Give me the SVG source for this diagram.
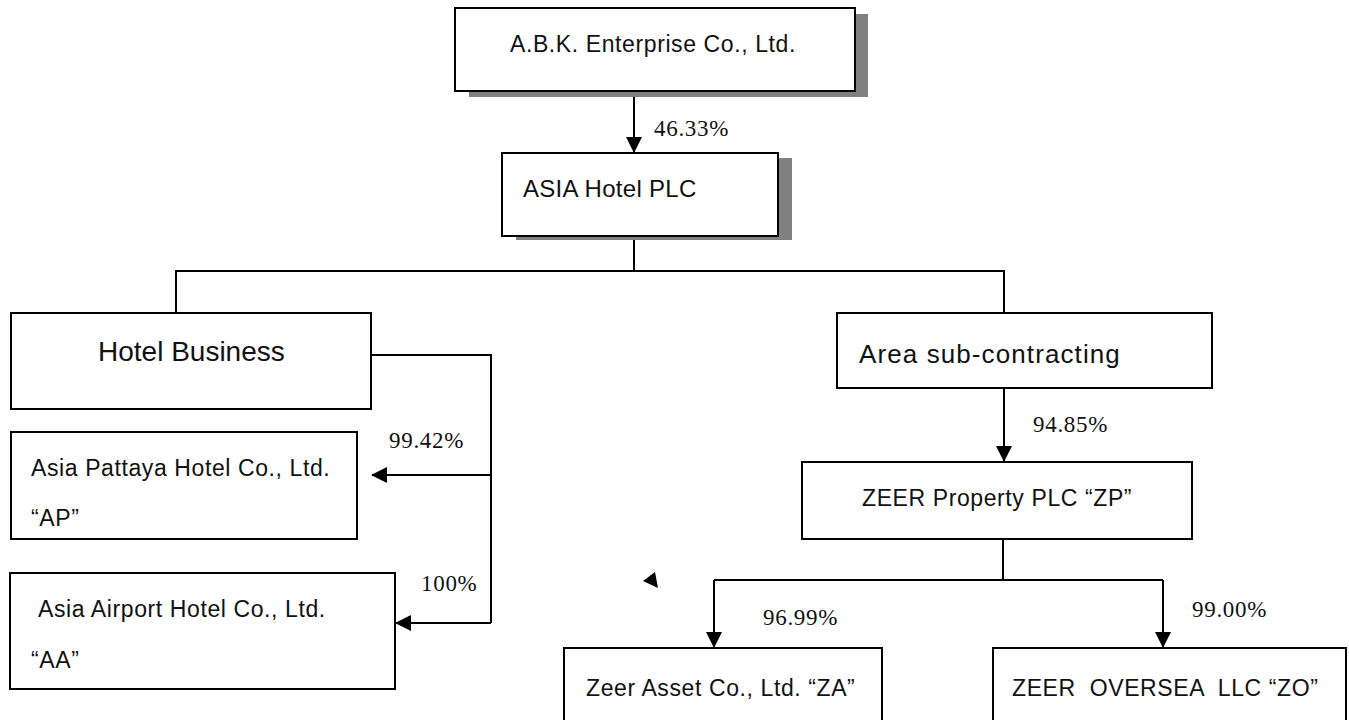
<svg xmlns="http://www.w3.org/2000/svg" width="1349" height="720" viewBox="0 0 1349 720">
<defs>
<style>
.box{fill:#fff;stroke:#000;stroke-width:2}
.shadow{fill:#808080}
.t{font-family:"Liberation Sans",Arial,sans-serif;font-size:23px;letter-spacing:0.6px;fill:#111}
.p{font-family:"Liberation Serif","Times New Roman",serif;font-size:23px;letter-spacing:0.7px;fill:#111}
.c{fill:none;stroke:#000;stroke-width:2}
</style>
<marker id="ah" viewBox="0 0 16 16" refX="15" refY="8" markerWidth="16" markerHeight="16" markerUnits="userSpaceOnUse" orient="auto">
<path d="M0,0 L16,8 L0,16 Z" fill="#000"/>
</marker>
</defs>
<rect width="1349" height="720" fill="#fff"/>

<g id="connectors">
<path class="c" d="M634,91 V152" marker-end="url(#ah)"/>
<path class="c" d="M634,236 V271"/>
<path class="c" d="M176,313 V271 H1004 V313"/>
<path class="c" d="M371,355 H491 V623"/>
<path class="c" d="M491,475 H372" marker-end="url(#ah)"/>
<path class="c" d="M491,623 H396" marker-end="url(#ah)"/>
<path class="c" d="M1004,388 V461" marker-end="url(#ah)"/>
<path class="c" d="M1003,539 V580"/>
<path class="c" d="M714,580 H1163"/>
<path class="c" d="M714,580 V647" marker-end="url(#ah)"/>
<path class="c" d="M1163,580 V647" marker-end="url(#ah)"/>
<polygon points="643,581 655,572 658,588" fill="#000"/>
</g>

<g id="node-abk">
<rect class="shadow" x="469" y="14" width="399" height="83"/>
<rect class="box" x="455" y="8" width="400" height="83"/>
<text class="t" x="510" y="52">A.B.K. Enterprise Co., Ltd.</text>
</g>

<g id="node-asia">
<rect class="shadow" x="516" y="158" width="276" height="82"/>
<rect class="box" x="502" y="153" width="276" height="83"/>
<text class="t" x="523" y="197" style="font-size:24px;letter-spacing:0.3px">ASIA Hotel PLC</text>
</g>

<g id="node-hotel-business">
<rect class="box" x="11" y="313" width="360" height="96"/>
<text class="t" x="98" y="361" style="font-size:28px;letter-spacing:0">Hotel Business</text>
</g>

<g id="node-area">
<rect class="box" x="837" y="313" width="375" height="75"/>
<text class="t" x="859" y="363" style="font-size:26px;letter-spacing:1.1px">Area sub-contracting</text>
</g>

<g id="node-ap">
<rect class="box" x="11" y="432" width="346" height="107"/>
<text class="t" x="31" y="476">Asia Pattaya Hotel Co., Ltd.</text>
<text class="t" x="31" y="526">“AP”</text>
</g>

<g id="node-aa">
<rect class="box" x="10" y="573" width="385" height="116"/>
<text class="t" x="38" y="617">Asia Airport Hotel Co., Ltd.</text>
<text class="t" x="31" y="668">“AA”</text>
</g>

<g id="node-zp">
<rect class="box" x="802" y="462" width="390" height="77"/>
<text class="t" x="862" y="506">ZEER Property PLC “ZP”</text>
</g>

<g id="node-za">
<rect class="box" x="564" y="648" width="318" height="80"/>
<text class="t" x="586" y="696">Zeer Asset Co., Ltd. “ZA”</text>
</g>

<g id="node-zo">
<rect class="box" x="993" y="648" width="353" height="80"/>
<text class="t" x="1012" y="696" xml:space="preserve">ZEER  OVERSEA  LLC “ZO”</text>
</g>

<g id="labels">
<text class="p" x="654" y="136">46.33%</text>
<text class="p" x="389" y="448">99.42%</text>
<text class="p" x="421" y="591">100%</text>
<text class="p" x="1033" y="432">94.85%</text>
<text class="p" x="763" y="625">96.99%</text>
<text class="p" x="1192" y="617">99.00%</text>
</g>
</svg>
